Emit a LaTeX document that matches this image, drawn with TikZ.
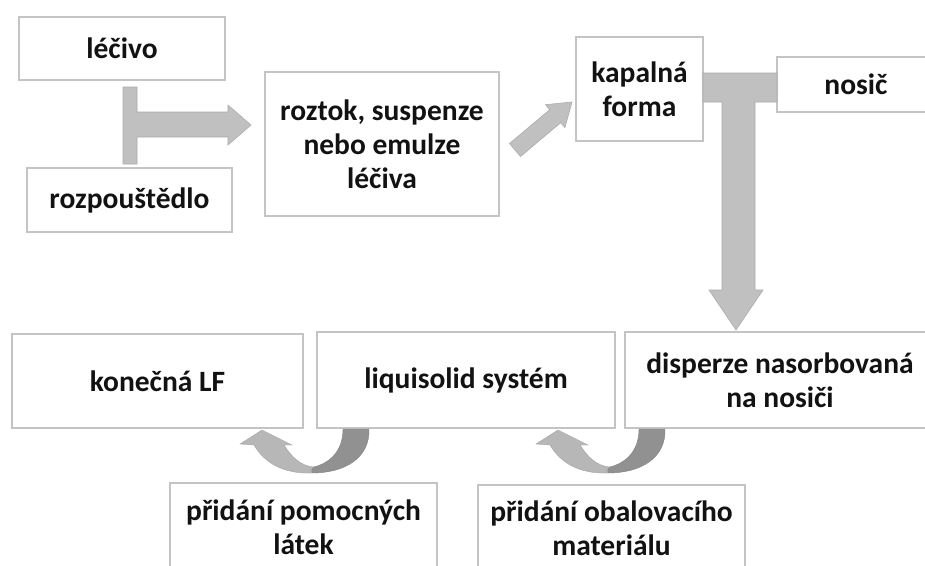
\documentclass[tikz,border=0pt]{standalone}
\usepackage{fontspec}
\setmainfont{Carlito}
\usetikzlibrary{calc}
\definecolor{boxline}{RGB}{196,196,196}
\definecolor{arrowfill}{RGB}{192,192,192}
\definecolor{arrowedge}{RGB}{172,172,172}
\definecolor{curvelight}{RGB}{183,183,183}
\definecolor{curvedark}{RGB}{145,145,145}
\definecolor{txt}{RGB}{18,18,18}
\begin{document}
\begin{tikzpicture}[x=1pt,y=-1pt,
  box/.style={draw=boxline, line width=1.3pt, fill=white, text=txt, align=center,
    inner sep=0pt, font=\bfseries\fontsize{29.5}{34}\selectfont},
  fat/.style={fill=arrowfill, draw=arrowedge, line width=0.6pt},
  curlight/.style={fill=curvelight, draw=curvelight!90!black, line width=0.4pt},
  curdark/.style={fill=curvedark, draw=curvedark!90!black, line width=0.4pt}]
\useasboundingbox (0,0) rectangle (925,565);
\clip (0,0) rectangle (925,565);
\fill[white] (0,0) rectangle (925,565);

% top row
\node[box, minimum width=206pt, minimum height=63pt] (lecivo) at (122,48.5) {léčivo};
\node[box, minimum width=205pt, minimum height=64pt] (rozp) at (129.5,200) {rozpouštědlo};
\node[box, minimum width=234pt, minimum height=144pt] (roztok) at (382,144) {roztok, suspenze\\nebo emulze\\léčiva};
\node[box, minimum width=127pt, minimum height=104pt] (kapal) at (639.5,89) {kapalná\\forma};
\node[box, minimum width=158pt, minimum height=55pt] (nosic) at (856,84.5) {nosič};

% bottom row
\node[box, minimum width=291pt, minimum height=94pt] (konec) at (157.5,381) {konečná LF};
\node[box, minimum width=298pt, minimum height=96pt] (liqui) at (466,380) {liquisolid systém};
\node[box, minimum width=310pt, minimum height=96pt] (disp) at (780,380) {disperze nasorbovaná\\na nosiči};
\node[box, minimum width=267pt, minimum height=88pt] (pom) at (303.5,527) {přidání pomocných\\látek};
\node[box, minimum width=267pt, minimum height=86pt] (obal) at (611.5,528) {přidání obalovacího\\materiálu};

% T-arrow: lecivo + rozpoustedlo -> roztok
\draw[fat] (123,87) -- (137,87) -- (137,112) -- (228,112) -- (228,105) -- (251,125)
  -- (228,145) -- (228,137) -- (137,137) -- (137,164) -- (123,164) -- cycle;

% diagonal arrow: roztok -> kapalna forma
\coordinate (dtail) at (515,150);
\coordinate (dtip) at (572,102);
\draw[fat] (520.5,156.5) -- (560.7,122.7) -- (564.9,127.7) -- (dtip) -- (545.5,104.7)
  -- (549.7,109.7) -- (509.5,143.5) -- cycle;

% T-arrow: kapalna forma + nosic -> disperze
\draw[fat] (703,73) -- (777,73) -- (777,102) -- (755,102) -- (755,290) -- (763,290)
  -- (736,330) -- (709,290) -- (722,290) -- (722,102) -- (703,102) -- cycle;

% curved arrow: liquisolid -> konecna LF
\begin{scope}
\draw[curlight] (312,473) .. controls (282,474) and (264,462) .. (254,445) -- (240,444)
  -- (262,430) -- (292,445) -- (284,445) .. controls (291,456) and (300,466) .. (314,467) -- cycle;
\draw[curdark] (343,429) -- (369,429) .. controls (370,458) and (345,473) .. (312,473)
  .. controls (311,471) and (312,468) .. (314,467) .. controls (333,462) and (343,448) .. (343,429) -- cycle;
\end{scope}

% curved arrow: disperze -> liquisolid
\begin{scope}[xshift=296pt]
\draw[curlight] (312,473) .. controls (282,474) and (264,462) .. (254,445) -- (240,444)
  -- (262,430) -- (292,445) -- (284,445) .. controls (291,456) and (300,466) .. (314,467) -- cycle;
\draw[curdark] (343,429) -- (369,429) .. controls (370,458) and (345,473) .. (312,473)
  .. controls (311,471) and (312,468) .. (314,467) .. controls (333,462) and (343,448) .. (343,429) -- cycle;
\end{scope}
\end{tikzpicture}
\end{document}
